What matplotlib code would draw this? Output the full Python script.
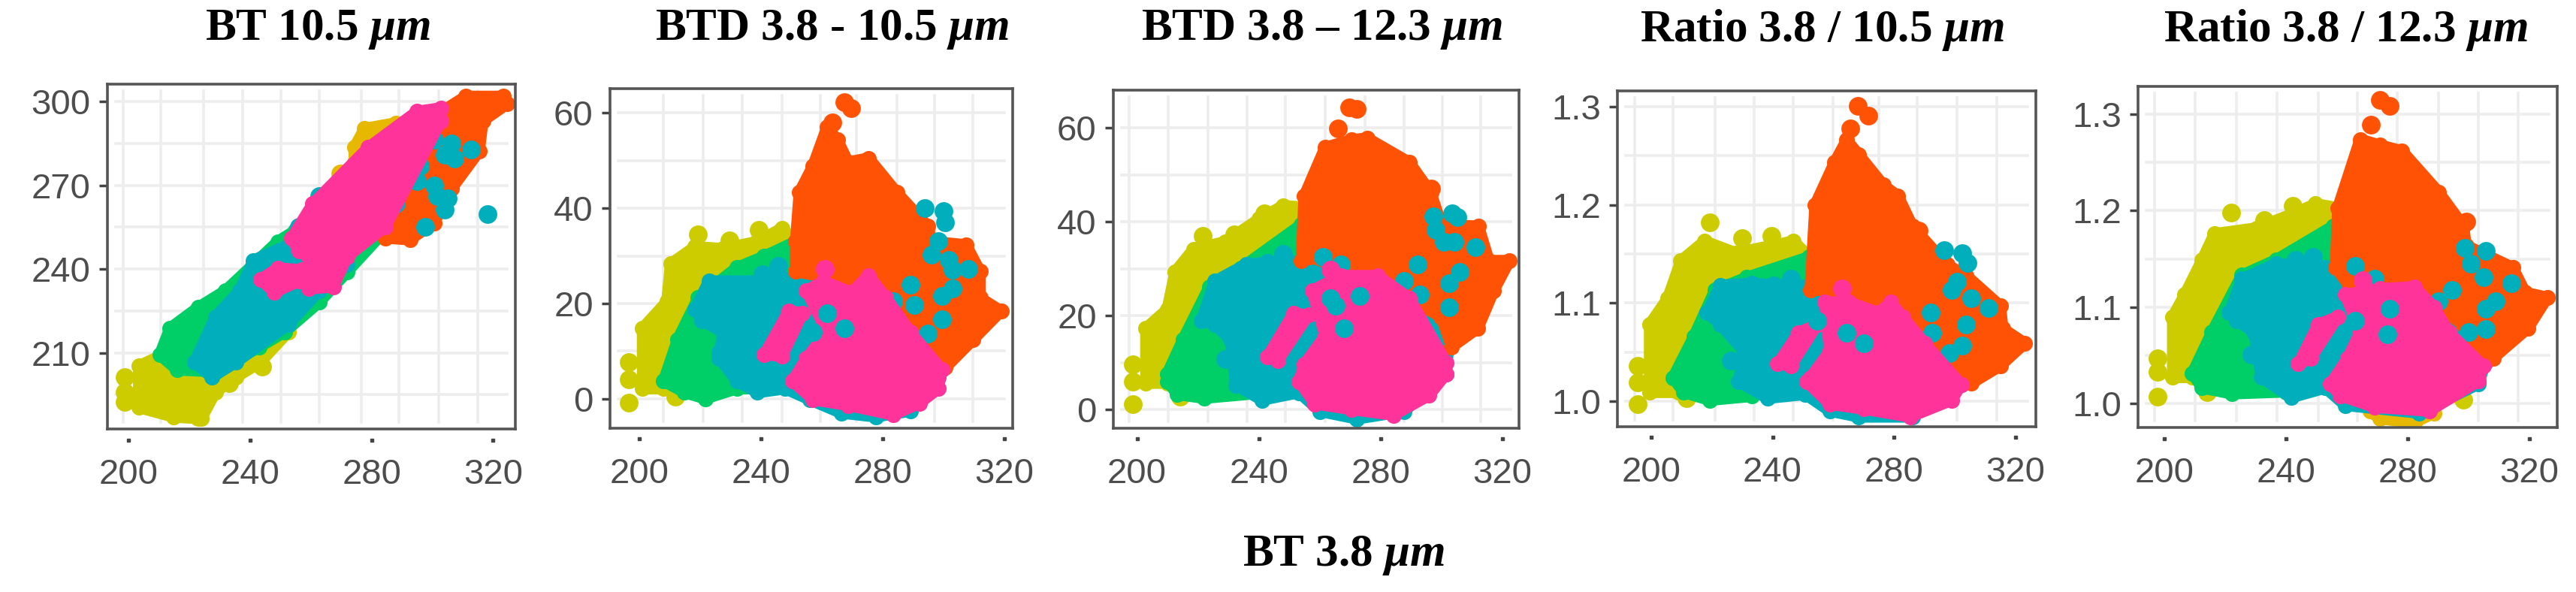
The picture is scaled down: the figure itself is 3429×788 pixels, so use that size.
import matplotlib
matplotlib.use("Agg")
import matplotlib.pyplot as plt
from matplotlib.transforms import blended_transform_factory

W, H = 3429, 788

plt.rcParams.update({
    "font.family": ["Liberation Sans", "DejaVu Sans"],
    "mathtext.fontset": "custom",
    "mathtext.it": "Liberation Serif:italic:bold",
    "mathtext.rm": "Liberation Serif:bold",
})

YELLOW = "#CCCC00"
GOLD = "#E7B800"
GREEN = "#00CF68"
TEAL = "#00AFBB"
PINK = "#FF3399"
ORANGE = "#FF5205"
GRID = "#EDEDED"
SPINE = "#555555"
TICK = "#4D4D4D"

X_TICKS = [200, 240, 280, 320]

# panel 1: BT 10.5
P1_YELLOW = [(203.4, 205.3), (211.4, 209.3), (226.3, 203.2), (233.1, 203.2), (252.6, 217.4), (243.4, 206.6), (235.4, 201.2),
             (228.6, 195.8), (224, 186.4), (214.9, 187), (203.4, 190.4)]
P1_YELLOW_PTS = [(198.9, 201.2), (198.9, 195.8), (198.9, 192.4), (233.1, 199.2), (244, 205), (223, 187)]
P1_GOLD = [(274.3, 283.5), (277.7, 290.3), (288, 292.3), (288, 282.1), (274.3, 278.1)]
P1_GOLD_PTS = [(269.7, 274.1)]
P1_GREEN = [(210.3, 209.3), (213.7, 218.8), (222.9, 226.2), (232, 232.3), (249.1, 249.8), (254.9, 253.8), (283.4, 252.5),
            (272, 239), (262.9, 228.2), (251.4, 217.4), (243, 212), (228.6, 203.2), (216, 203.9)]
P1_TEAL = [(221.7, 206.6), (228.6, 222.8), (236.6, 232.3), (241.1, 243.1), (254.9, 249.8), (272, 241.7), (262.9, 232.3),
           (252.6, 220.1), (235.4, 206.6), (227.4, 201.2)]
P1_TEAL_PTS = [(256, 255.2), (262.9, 266), (300.6, 286.2), (306.3, 284.9), (312.7, 282.9), (307.4, 279.5), (294.9, 271.4),
               (300.6, 270), (301.7, 266), (305.1, 265.3), (304, 261.3), (288, 263.3), (297.6, 255.2), (318.2, 259.6),
               (304, 280.8), (296, 276.8)]
P1_ORANGE = [(284.6, 251.1), (285.7, 260.6), (304, 297), (310.9, 301.8), (323.4, 301.8), (324.6, 299.1), (316.6, 293),
             (315.4, 282.2), (306.3, 268.7), (300.6, 256.5), (292.6, 250.5)]
P1_ORANGE_PTS = [(302, 276)]
P1_PINK = [(253.7, 251.1), (260.6, 263.3), (278.9, 283.5), (294.9, 296.4), (302.9, 297.7), (302.9, 293), (284.6, 255.2),
           (272, 244.4), (267.4, 233.6), (259.4, 232.9), (259.4, 244.4), (256, 246.4)]
P1_PINK_2 = [(243.4, 236.3), (249.1, 240.3), (257.1, 239.7), (256, 235.6), (248, 231.6)]
P1_PINK_PTS = []
P1_TEAL_TOP = []
P1_GRID_X = [198.4, 210.7, 224.7, 237.7, 250.3, 262.9, 276.6, 289.1, 302.2, 315]
P1_GRID_Y = [300, 285, 270, 255, 240, 225, 210, 195]
P1_Y_TICKS = [210, 240, 270, 300]
P1_Y_LABELS = ["210", "240", "270", "300"]

# panel 2: BTD 3.8 - 10.5
P2_YELLOW = [(201.1, 2.1), (201.1, 14.8), (209.1, 20.4), (210.3, 28.3), (218.3, 31.9), (227.4, 31.5), (238.9, 33),
             (246.9, 35.8), (251.4, 33), (218.3, 16.4), (208, 2.1)]
P2_YELLOW_PTS = [(219.4, 34.5), (229.7, 33.3), (239.3, 35.4), (211.9, 0.4), (196.6, 7.7), (196.6, 4.1), (196.6, -0.9)]
P2_GREEN = [(208, 3.7), (212.6, 12.4), (219.4, 21.2), (232, 27.5), (241.1, 29.9), (251.4, 33), (252.6, 25.1), (241, 2.1),
            (232, 2.1), (221.7, 0), (214.9, 1.3)]
P2_TEAL = [(218.3, 18.8), (222.9, 24.7), (240, 24.7), (254.9, 25.9), (264, 22.7), (284.6, 21.2), (296, 14), (298.3, 4.5),
           (289.1, -2.6), (277.7, -3.8), (266.3, -3), (256, -0.2), (248, 2.1), (238.9, 1.3), (232, 3.7), (226.3, 8.5),
           (227.4, 14), (220.6, 16.4)]
P2_TEAL_PTS = [(240.5, 26.1), (245.7, 27.9), (293.7, 40), (299.9, 39.4), (300.6, 37), (298.3, 33), (296, 30.3), (301.7, 29.1),
               (302.9, 27.1), (308.1, 27.3), (289.1, 23.9), (302.9, 23.1), (299.4, 21.6), (283.4, 20.4), (290.3, 19.6),
               (299.4, 16.6), (294.9, 13.6), (226.7, 9.7)]
P2_ORANGE = [(251.4, 33), (252.6, 43.3), (257.1, 48.9), (261.7, 57), (265.1, 54.4), (268.6, 49.7), (275.4, 50.5), (284.6, 43.3),
             (294.9, 36.2), (296, 33), (307.4, 32.3), (312, 26.7), (312, 21.2), (318.9, 18.4), (309.7, 12.4), (300.6, 6.5),
             (296, 10), (291.4, 16.4), (277.7, 23.5), (251.4, 26.7)]
P2_ORANGE_PTS = [(263.5, 58), (267.4, 62.2), (269.7, 61)]
P2_PINK = [(250.3, 3.7), (254.9, 8.5), (261.7, 14), (254.9, 22.7), (260.6, 24.7), (269.7, 22.3), (275.4, 25.9), (281.1, 21.2),
           (289.1, 14), (299.4, 6.1), (298.3, 2.1), (292, -1), (283.4, -3.4), (268.6, -1.4), (257.1, -0.2)]
P2_PINK_2 = [(241.1, 9.3), (249.1, 18.4), (253.7, 18), (246.9, 8.9)]
P2_PINK_PTS = [(261, 27.3)]
P2_TEAL_TOP = [(261.7, 18), (267.4, 14.8), (257, 14)]
P2_GRID_X = [208, 221, 233.8, 246.9, 259.4, 271.3, 284.6, 297.1, 309.7]
P2_GRID_Y = [0, 10, 20, 30, 40, 50, 60]
P2_Y_TICKS = [0, 20, 40, 60]
P2_Y_LABELS = ["0", "20", "40", "60"]

# panel 3: BTD 3.8 - 12.3
P3_YELLOW = [(202.9, 5.6), (202.9, 17.3), (209.9, 21.3), (212.5, 29.3), (218.5, 34.1), (228.9, 35.7), (240.2, 40.6), (248, 43.4),
             (255.8, 43), (254, 39), (234.1, 29.3), (218.5, 16.5), (209.9, 5.6)]
P3_YELLOW_PTS = [(221.6, 36.9), (231.9, 37.3), (241.9, 41.8), (198.6, 9.6), (198.6, 6), (198.6, 1.2), (214.2, 2.8)]
P3_GREEN = [(209.9, 7.6), (215.1, 14.9), (223.7, 26.1), (234.1, 30.1), (254, 39.4), (254.9, 31.7), (242.8, 3.6), (222, 2.4),
            (213.3, 3.2), (209.9, 6)]
P3_TEAL = [(221.1, 18.9), (225.5, 27.3), (235.8, 30.9), (249.7, 31.7), (260.1, 30.9), (270.5, 27.7), (287.8, 27.7), (296.5, 22.1),
           (302.5, 14.9), (301.6, 7.6), (287.8, -0.4), (272.2, -2), (260.1, -0.4), (253.2, 3.6), (241, 2), (232.4, 5.2),
           (230.6, 14.9), (225.5, 18.1)]
P3_TEAL_PTS = [(242.8, 31.2), (248, 33.2), (228.9, 10.8), (261, 32.5), (267, 30.9), (297.4, 41.2), (303.5, 41.8), (305.2, 41),
               (298.2, 38.2), (300.8, 35.7), (304.3, 35.7), (311.2, 34.5), (292.1, 30.9), (306, 29.3), (302.5, 26.9),
               (302.5, 21.7), (293, 24.5), (287.8, 27.3)]
P3_ORANGE = [(254, 31.7), (254.9, 45.4), (261.8, 55.8), (270.5, 57.4), (275.6, 57.8), (289.5, 52.6), (296.5, 46.2), (300, 39.4),
             (312.2, 39), (315.6, 31.7), (322.4, 31.7), (317.2, 25.3), (312, 17.3), (303.4, 13.3), (299.9, 19.7), (277.4, 27.7),
             (256.6, 32.5)]
P3_ORANGE_PTS = [(266.1, 59.8), (269.6, 64.3), (272.2, 64), (296.5, 47.1)]
P3_PINK = [(253.2, 6), (254.9, 9.6), (261.8, 15.7), (257.5, 25.3), (267, 28.5), (279.1, 28.5), (289.5, 23.7), (301.6, 10),
           (301.6, 7.6), (296, 3), (284.3, -1.2), (270.5, 0), (258.4, 1.2)]
P3_PINK_2 = [(242.8, 11.2), (251.4, 20.5), (256.3, 20.1), (246.2, 10.4)]
P3_PINK_PTS = [(263.6, 29.7)]
P3_TEAL_TOP = [(265.3, 22.1), (263.6, 23.7), (273.1, 24.1), (267.9, 17.3)]
P3_GRID_X = [197.4, 210.2, 223.4, 236.2, 248.8, 261.8, 274.8, 287.8, 300.3, 312.9]
P3_GRID_Y = [0, 10, 20, 30, 40, 50, 60]
P3_Y_TICKS = [0, 20, 40, 60]
P3_Y_LABELS = ["0", "20", "40", "60"]

# panel 4: Ratio 3.8 / 10.5
P4_YELLOW = [(199.5, 1.009), (199.5, 1.078), (205.5, 1.105), (209.8, 1.143), (217.6, 1.163), (227.9, 1.151), (246.9, 1.163),
             (252.1, 1.147), (231.4, 1.124), (217.6, 1.063), (209, 1.009)]
P4_YELLOW_PTS = [(219.3, 1.182), (230, 1.166), (239.5, 1.168), (195.5, 1.036), (195.5, 1.019), (195.5, 0.997), (211.6, 1.003)]
P4_GREEN = [(207.2, 1.024), (214.1, 1.066), (221, 1.113), (231.4, 1.126), (252.1, 1.147), (252.1, 1.116), (233.1, 1.005),
            (219.3, 1.001), (210.7, 1.009)]
P4_TEAL = [(218.4, 1.09), (222.8, 1.118), (233.1, 1.12), (250.3, 1.116), (254, 1.113), (271.6, 1.093), (284.5, 1.078), (295.7, 1.055),
           (302.2, 1.017), (286.1, 0.984), (268.4, 0.984), (258.8, 0.99), (250.8, 1.007), (238.3, 1.003), (228.8, 1.02),
           (230.5, 1.051), (222.8, 1.078)]
P4_TEAL_PTS = [(240.3, 1.118), (246, 1.125), (226.2, 1.041), (296.4, 1.154), (302.5, 1.151), (304.1, 1.141), (300.6, 1.122),
               (299, 1.113), (305.4, 1.105), (311, 1.095), (292, 1.09), (303.8, 1.078), (302.5, 1.057), (292.5, 1.07), (298.2, 1.049)]
P4_ORANGE = [(252.4, 1.113), (254, 1.2), (260.4, 1.243), (264.4, 1.266), (268.4, 1.251), (276.5, 1.22), (281.3, 1.209), (286.1, 1.178),
             (297.4, 1.139), (303.8, 1.128), (315, 1.097), (315.8, 1.074), (323.1, 1.059), (315, 1.036), (305.4, 1.018),
             (297.4, 1.043), (287.7, 1.082), (274.9, 1.093), (260.4, 1.113)]
P4_ORANGE_PTS = [(265.5, 1.278), (268.1, 1.301), (271.6, 1.291), (288, 1.174)]
P4_PINK = [(252.4, 1.024), (258.8, 1.051), (257.2, 1.101), (265.2, 1.101), (274.9, 1.09), (278.9, 1.101), (282.9, 1.086), (290.1, 1.059),
           (302.2, 1.017), (299, 1.001), (285.3, 0.984), (270, 0.992), (258.8, 0.997), (251.2, 1.02)]
P4_PINK_2 = [(241.7, 1.038), (248.6, 1.07), (254.7, 1.078), (246, 1.036)]
P4_PINK_PTS = [(262.8, 1.115)]
P4_TEAL_TOP = [(264.4, 1.07), (270, 1.059), (254.8, 1.082)]
P4_GRID_X = [194.7, 207.2, 221, 233.9, 246.9, 259.8, 274.9, 287.7, 300.6, 313.9]
P4_GRID_Y = [1.0, 1.05, 1.1, 1.15, 1.2, 1.25, 1.3]
P4_Y_TICKS = [1.0, 1.1, 1.2, 1.3]
P4_Y_LABELS = ["1.0", "1.1", "1.2", "1.3"]

# panel 5: Ratio 3.8 / 12.3
P5_YELLOW = [(202.8, 1.027), (202.8, 1.09), (206.8, 1.113), (212.5, 1.149), (216.5, 1.176), (230.3, 1.182), (241.7, 1.196),
             (249.8, 1.207), (257.1, 1.203), (255.5, 1.184), (236.8, 1.149), (223.8, 1.129), (215.7, 1.086), (209.2, 1.027)]
P5_YELLOW_PTS = [(221.9, 1.198), (232.8, 1.19), (242.2, 1.205), (197.9, 1.047), (197.9, 1.033), (197.9, 1.007), (214.1, 1.012),
                 (298.4, 1.004)]
P5_GOLD = [(267.6, 0.992), (270.9, 0.984), (282.2, 0.98), (288.7, 0.99), (274.1, 0.996)]
P5_GREEN = [(209.2, 1.031), (215.7, 1.074), (225.5, 1.133), (236.8, 1.149), (255.5, 1.184), (255.5, 1.137), (240.1, 1.012),
            (222.2, 1.01), (212.5, 1.016)]
P5_TEAL = [(221.4, 1.094), (225.5, 1.129), (236.8, 1.145), (253, 1.141), (261.1, 1.129), (270.9, 1.113), (288.7, 1.106), (298.4, 1.082),
           (305.7, 1.043), (303.3, 1.02), (283.8, 0.99), (259.5, 0.998), (253, 1.016), (241.7, 1.006), (231.9, 1.027), (229.5, 1.074),
           (223.8, 1.086)]
P5_TEAL_PTS = [(243.3, 1.149), (249, 1.152), (228.7, 1.051), (262.8, 1.143), (269.2, 1.129), (298.8, 1.161), (305.7, 1.158), (300.9, 1.145),
               (304.9, 1.131), (314.2, 1.125), (294.7, 1.118), (309, 1.106), (305.7, 1.098), (305.7, 1.077), (290.3, 1.106), (300, 1.074)]
P5_ORANGE = [(256.3, 1.141), (257.1, 1.203), (264.4, 1.274), (270.9, 1.268), (278.2, 1.262), (290.3, 1.219), (298.4, 1.184), (299.2, 1.164),
             (314.6, 1.141), (318.7, 1.115), (326, 1.11), (319.6, 1.078), (308.2, 1.047), (304.1, 1.043), (298.4, 1.082), (282.2, 1.113),
             (261.1, 1.121)]
P5_ORANGE_PTS = [(267.9, 1.289), (270.9, 1.315), (274.1, 1.309), (299.2, 1.189)]
P5_PINK = [(254.6, 1.02), (260.3, 1.047), (264.4, 1.074), (259.5, 1.113), (270.9, 1.119), (282.2, 1.121), (288.7, 1.1), (293.6, 1.074),
           (304.9, 1.039), (303.3, 1.023), (287.1, 0.992), (269.2, 0.996), (257.9, 1.008)]
P5_PINK_2 = [(244.1, 1.041), (250.6, 1.082), (257.1, 1.09), (248.2, 1.047)]
P5_PINK_PTS = [(265.2, 1.128)]
P5_TEAL_TOP = [(262.8, 1.086), (274.1, 1.098), (273.3, 1.072)]
P5_GRID_X = [196.8, 210.1, 223.8, 237.1, 250.6, 263.6, 276.5, 290.3, 303.3, 316.3]
P5_GRID_Y = [1.0, 1.05, 1.1, 1.15, 1.2, 1.25, 1.3]
P5_Y_TICKS = [1.0, 1.1, 1.2, 1.3]
P5_Y_LABELS = ["1.0", "1.1", "1.2", "1.3"]

TITLES = ["BT 10.5 $\\mu m$", "BTD 3.8 - 10.5 $\\mu m$", "BTD 3.8 – 12.3 $\\mu m$",
          "Ratio 3.8 / 10.5 $\\mu m$", "Ratio 3.8 / 12.3 $\\mu m$"]
X_LABEL = "BT 3.8 $\\mu m$"


def add_axes(fig, left, right, top, bottom):
    return fig.add_axes([left / W, 1 - bottom / H, (right - left) / W, (bottom - top) / H])


def blob(ax, pts, color, z):
    xs = [p[0] for p in pts]
    ys = [p[1] for p in pts]
    ax.fill(xs, ys, color=color, lw=11, joinstyle="round", zorder=z)
    ax.scatter(xs, ys, s=230, color=color, linewidths=0, zorder=z)


def dots(ax, pts, color, z):
    if not pts:
        return
    ax.scatter([p[0] for p in pts], [p[1] for p in pts], s=320, color=color, linewidths=0, zorder=z)


def draw_panel(ax, xlim, ylim, grid_x, grid_y, y_ticks, y_labels, yellow, yellow_pts, green, teal, teal_pts,
               orange, orange_pts, pink, pink_2, pink_pts, teal_top):
    ax.set_xlim(*xlim)
    ax.set_ylim(*ylim)
    for g in grid_x:
        ax.axvline(g, ymin=0.02, ymax=0.98, color=GRID, lw=2.6, zorder=1)
    for g in grid_y:
        ax.axhline(g, xmin=0.02, xmax=0.98, color=GRID, lw=2.6, zorder=1)
    blob(ax, yellow, YELLOW, 2)
    dots(ax, yellow_pts, YELLOW, 2)
    blob(ax, green, GREEN, 3)
    blob(ax, teal, TEAL, 4)
    blob(ax, orange, ORANGE, 5)
    dots(ax, orange_pts, ORANGE, 5)
    dots(ax, teal_pts, TEAL, 6)
    blob(ax, pink, PINK, 7)
    blob(ax, pink_2, PINK, 7)
    dots(ax, pink_pts, PINK, 7)
    dots(ax, teal_top, TEAL, 8)

    ax.set_xticks(X_TICKS)
    ax.set_xticklabels([str(t) for t in X_TICKS])
    ax.set_yticks(y_ticks)
    ax.set_yticklabels(y_labels)
    ax.tick_params(axis="x", length=0, pad=28, labelsize=34, labelcolor=TICK)
    ax.tick_params(axis="y", length=8, width=2.5, color="#444444", pad=8, labelsize=34, labelcolor=TICK)
    # the x ticks sit apart from the axis line in the source figure
    trans = blended_transform_factory(ax.transData, ax.transAxes)
    ax.plot(X_TICKS, [-0.032] * 4, ls="none", marker="s", ms=3, color="#444444", transform=trans, clip_on=False)
    for s in ax.spines.values():
        s.set_color(SPINE)
        s.set_linewidth(2.6)
        s.set_zorder(10)


fig = plt.figure(figsize=(W / 100, H / 100), dpi=100, facecolor="white")

ax1 = add_axes(fig, 143, 686, 112, 571)
draw_panel(ax1, (193.1, 327.3), (182.7, 306.2), P1_GRID_X, P1_GRID_Y, P1_Y_TICKS, P1_Y_LABELS,
           P1_YELLOW, P1_YELLOW_PTS, P1_GREEN, P1_TEAL, P1_TEAL_PTS, P1_ORANGE, P1_ORANGE_PTS,
           P1_PINK, P1_PINK_2, P1_PINK_PTS, P1_TEAL_TOP)
blob(ax1, P1_GOLD, GOLD, 2)
dots(ax1, P1_GOLD_PTS, GOLD, 2)

ax2 = add_axes(fig, 812, 1348, 118, 570)
draw_panel(ax2, (190.4, 322.7), (-6.2, 65.1), P2_GRID_X, P2_GRID_Y, P2_Y_TICKS, P2_Y_LABELS,
           P2_YELLOW, P2_YELLOW_PTS, P2_GREEN, P2_TEAL, P2_TEAL_PTS, P2_ORANGE, P2_ORANGE_PTS,
           P2_PINK, P2_PINK_2, P2_PINK_PTS, P2_TEAL_TOP)

ax3 = add_axes(fig, 1482, 2022, 120, 570)
draw_panel(ax3, (192.2, 325.5), (-4, 68), P3_GRID_X, P3_GRID_Y, P3_Y_TICKS, P3_Y_LABELS,
           P3_YELLOW, P3_YELLOW_PTS, P3_GREEN, P3_TEAL, P3_TEAL_PTS, P3_ORANGE, P3_ORANGE_PTS,
           P3_PINK, P3_PINK_2, P3_PINK_PTS, P3_TEAL_TOP)

ax4 = add_axes(fig, 2153, 2710, 121, 568)
draw_panel(ax4, (188.9, 326.7), (0.974, 1.316), P4_GRID_X, P4_GRID_Y, P4_Y_TICKS, P4_Y_LABELS,
           P4_YELLOW, P4_YELLOW_PTS, P4_GREEN, P4_TEAL, P4_TEAL_PTS, P4_ORANGE, P4_ORANGE_PTS,
           P4_PINK, P4_PINK_2, P4_PINK_PTS, P4_TEAL_TOP)

ax5 = add_axes(fig, 2846, 3404, 115, 569)
draw_panel(ax5, (191.4, 329.2), (0.975, 1.329), P5_GRID_X, P5_GRID_Y, P5_Y_TICKS, P5_Y_LABELS,
           P5_YELLOW, P5_YELLOW_PTS, P5_GREEN, P5_TEAL, P5_TEAL_PTS, P5_ORANGE, P5_ORANGE_PTS,
           P5_PINK, P5_PINK_2, P5_PINK_PTS, P5_TEAL_TOP)
blob(ax5, P5_GOLD, GOLD, 2)

title_x = [423, 1108, 1760, 2425, 3122]
for tx, t in zip(title_x, TITLES):
    fig.text(tx / W, 1 - 40 / H, t, ha="center", va="center", fontsize=44, fontweight="bold",
             family="Liberation Serif", color="black")
fig.text(1789 / W, 1 - 739 / H, X_LABEL, ha="center", va="center", fontsize=44, fontweight="bold",
         family="Liberation Serif", color="black")

fig.savefig("out.png", dpi=100)
